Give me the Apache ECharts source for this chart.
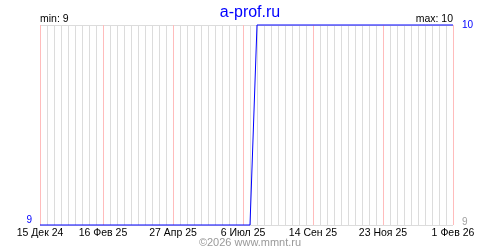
<!DOCTYPE html>
<html>
<head>
<meta charset="utf-8">
<script src="https://cdn.jsdelivr.net/npm/echarts@6/dist/echarts.min.js"></script>
<style>html,body{margin:0;padding:0;background:#fff}#c{width:500px;height:250px}</style>
</head>
<body>
<div id="c"></div>
<script>
const chartTitle = 'a-prof.ru';
const copyright = '©2026 www.mmnt.ru';
const startDate = '2024-12-15';
const endDate = '2026-02-01';
const pointDates = ['2024-12-15', '2025-07-13', '2025-07-20', '2026-02-01'];
const pointValues = [9, 9, 10, 10];
const tickDates = ['2024-12-15', '2025-02-16', '2025-04-27', '2025-07-06', '2025-09-14', '2025-11-23', '2026-02-01'];
const tickLabels = ['15 Дек 24', '16 Фев 25', '27 Апр 25', '6 Июл 25', '14 Сен 25', '23 Ноя 25', '1 Фев 26'];

const DAY = 86400000;
const t0 = Date.parse(startDate);
const dayOf = s => Math.round((Date.parse(s) - t0) / DAY);
const xMax = dayOf(endDate);
const tickDays = tickDates.map(dayOf);
const labelMap = {};
tickDays.forEach((d, i) => { labelMap[d] = tickLabels[i]; });
const seriesData = pointDates.map((d, i) => [dayOf(d), pointValues[i]]);
const vMin = Math.min(...pointValues), vMax = Math.max(...pointValues);

const FONT = 'Liberation Sans';
const chart = echarts.init(document.getElementById('c'), null, {renderer: 'canvas'});
chart.setOption({
  animation: false,
  backgroundColor: '#fff',
  title: {
    text: chartTitle, left: 'center', top: 0,
    textStyle: {color: '#0000ff', fontFamily: FONT, fontSize: 16, fontWeight: 'normal'}
  },
  grid: {left: 40, right: 47, top: 25, bottom: 25, containLabel: false},
  xAxis: {
    type: 'value', min: 0, max: xMax, interval: 7,
    axisLine: {show: false}, axisTick: {show: false},
    splitLine: {show: true, lineStyle: {color: '#dcdcdc', width: 1}},
    axisLabel: {
      customValues: tickDays, margin: 3, color: '#000', fontFamily: FONT, fontSize: 10.5,
      formatter: v => labelMap[v] || ''
    }
  },
  yAxis: [{
    type: 'value', min: vMin, max: vMax, interval: 1, position: 'left',
    axisLine: {show: false}, axisTick: {show: false},
    splitLine: {show: true, lineStyle: {color: '#dcdcdc', width: 1}},
    axisLabel: {
      margin: 8, color: '#0000ff', fontFamily: FONT, fontSize: 10,
      verticalAlign: 'bottom',
      formatter: v => v === vMin ? String(v) : ''
    }
  }, {
    type: 'value', min: vMin, max: vMax, interval: 1, position: 'right',
    axisLine: {show: false}, axisTick: {show: false}, splitLine: {show: false},
    axisLabel: {
      margin: 9, fontFamily: FONT, fontSize: 10,
      formatter: v => v === vMax ? '{b|' + v + '}' : '{g|' + v + '}',
      rich: {
        b: {color: '#0000ff', fontFamily: FONT, fontSize: 10},
        g: {color: '#a0a0a0', fontFamily: FONT, fontSize: 10, padding: [0, 0, 6, 0]}
      }
    }
  }],
  graphic: [
    {type: 'text', left: 40, top: 14, style: {text: 'min: ' + vMin, fill: '#000', font: '10.5px "Liberation Sans"'}},
    {type: 'text', right: 47, top: 14, style: {text: 'max: ' + vMax, fill: '#000', font: '10.5px "Liberation Sans"'}},
    {type: 'text', left: 'center', top: 237, style: {text: copyright, fill: '#999', font: '11px "Liberation Sans"'}}
  ],
  series: [{
    type: 'line', data: seriesData, symbol: 'none', clip: false,
    lineStyle: {color: '#0000ff', width: 1},
    markLine: {
      silent: true, symbol: 'none', label: {show: false},
      lineStyle: {color: '#ffbcbc', width: 1, type: 'solid'},
      data: tickDays.map(d => ({xAxis: d}))
    },
    z: 5
  }]
});
</script>
</body>
</html>
